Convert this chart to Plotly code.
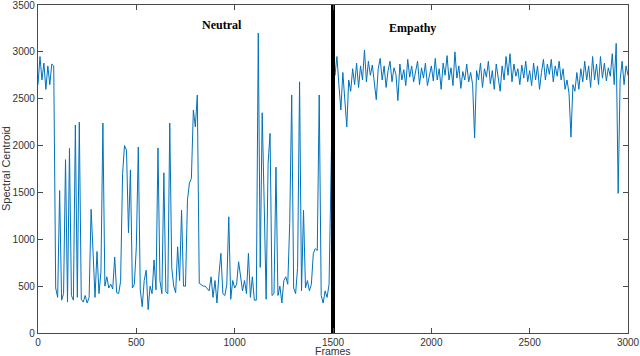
import plotly.graph_objects as go

# Frames sampled every 10 frames (0..3000)
frames = list(range(0, 3001, 10))

neutral_values = [
    2650, 2950, 2700, 2880, 2600, 2850, 2650, 2870, 2850, 480,
    380, 1520, 350, 420, 1850, 330, 1970, 400, 350, 2220,
    380, 2250, 360, 330, 400, 320, 380, 1320, 860, 380,
    870, 420, 650, 2240, 500, 600, 480, 520, 470, 810,
    430, 420, 550, 1700, 2000, 1950, 1070, 1740, 480, 520,
    920, 1985, 460, 280, 560, 670, 250, 500, 420, 780,
    460, 1975, 560, 420, 1710, 440, 420, 2240, 700, 500,
    430, 920, 560, 1310, 500, 500, 1420, 1600, 1650, 2380,
    2200, 2540, 530, 510, 500, 500, 480, 450, 600, 380,
    560, 320, 620, 850, 420, 400, 520, 1240, 360, 560,
    480, 520, 760, 600, 450, 560, 420, 850, 380, 600,
    350, 350, 3200, 700, 2350, 1390, 360, 1810, 2130, 400,
    420, 1770, 400, 500, 320, 560, 600, 520, 1170, 2540,
    480, 420, 700, 2680, 450, 1310, 480, 560, 450, 520,
    850, 900, 880, 2540, 400, 320, 450, 380, 520, 1700,
]

empathy_values = [
    2900, 2750, 2950, 2650, 2380, 2780, 2480, 2200, 2700, 2580,
    2820, 2650, 2880, 2620, 2850, 2700, 3020, 2680, 2900, 2750,
    2860, 2640, 2490, 2820, 2930, 2700, 2850, 2620, 2800, 2900,
    2680, 2830, 2760, 2480, 2870, 2700, 2810, 2640, 2920, 2730,
    2850, 2680, 2780, 2900, 2650, 2830, 2720, 2880, 2640, 2760,
    2850, 2690, 2930, 2700, 2820, 2600, 2880, 2750, 2960, 2700,
    2830, 2640, 3000, 2720, 2850, 2610, 2790, 2700, 2870, 2680,
    2780, 2650, 2080, 2800, 2700, 2880, 2620, 2820, 2730, 2900,
    2660, 2800, 2600, 2870, 2720, 2580, 2850, 2700, 2950, 2750,
    2980, 2680, 2870, 2740, 2820, 2650, 2860, 2720, 2900, 2680,
    2800, 2640, 2880, 2700, 2850, 2600, 2780, 2920, 2700, 2870,
    2760, 2920, 2680, 2850, 2740, 2900, 2700, 2820, 2600, 2700,
    2560, 2090, 2650, 2580, 2780, 2600, 2820, 2680, 2900, 2700,
    2850, 2620, 2950, 2700, 2870, 2650, 2950, 2720, 2880, 2690,
    2830, 2740, 2980, 2650, 3090, 1490, 2700, 2900, 2650, 2850,
    2750,
]

values = neutral_values + empathy_values

split_frame = 1500
y_range = [0, 3500]
x_ticks = [0, 500, 1000, 1500, 2000, 2500, 3000]
y_ticks = [0, 500, 1000, 1500, 2000, 2500, 3000, 3500]
labels = [("Neutral", 938, 3290), ("Empathy", 1902, 3255)]

axis_color = "#4a4a4a"
text_color = "#333333"
sans = "Liberation Sans, Arial, Helvetica, sans-serif"
tick_font = dict(family=sans, size=10, color=text_color)

fig = go.Figure()
fig.add_trace(go.Scatter(
    x=frames, y=values, mode="lines",
    line=dict(color="#0072BD", width=1),
    showlegend=False, hoverinfo="skip",
))
fig.add_trace(go.Scatter(
    x=[split_frame, split_frame], y=y_range, mode="lines",
    line=dict(color="black", width=4),
    showlegend=False, hoverinfo="skip",
))

for text, x, y in labels:
    fig.add_annotation(
        x=x, y=y, text=f"<b>{text}</b>", showarrow=False,
        font=dict(family="Liberation Serif, Times New Roman, serif", size=12, color="black"),
    )

# Axis titles as paper annotations (fixed margins)
fig.add_annotation(
    xref="paper", yref="paper", x=0.5, y=0, yshift=-10, yanchor="top",
    text="Frames", showarrow=False, font=dict(family=sans, size=10.5, color=text_color),
)
fig.add_annotation(
    xref="paper", yref="paper", x=0, xshift=-32, y=0.5, xanchor="center",
    text="Spectral Centroid", textangle=-90, showarrow=False,
    font=dict(family=sans, size=11, color=text_color),
)

fig.update_layout(
    width=640, height=356,
    margin=dict(l=38, r=12, t=5, b=23, autoexpand=False),
    paper_bgcolor="white", plot_bgcolor="white",
    showlegend=False,
)
fig.update_xaxes(
    range=[0, 3000], tickvals=x_ticks, ticktext=[str(v) for v in x_ticks],
    ticks="inside", ticklen=5, tickcolor=axis_color, tickwidth=1,
    showline=True, linecolor=axis_color, linewidth=1.3, mirror="ticks",
    showgrid=False, zeroline=False, tickfont=tick_font, automargin=False,
    ticklabeloverflow="allow",
)
fig.update_yaxes(
    range=y_range, tickvals=y_ticks, ticktext=[str(v) for v in y_ticks],
    ticks="inside", ticklen=5, tickcolor=axis_color, tickwidth=1,
    showline=True, linecolor=axis_color, linewidth=1.3, mirror="ticks",
    showgrid=False, zeroline=False, tickfont=tick_font, automargin=False,
    ticklabeloverflow="allow",
)

fig.write_html(
    "out.html",
    config={"displayModeBar": False},
    post_script="document.body.style.margin='0';",
)
